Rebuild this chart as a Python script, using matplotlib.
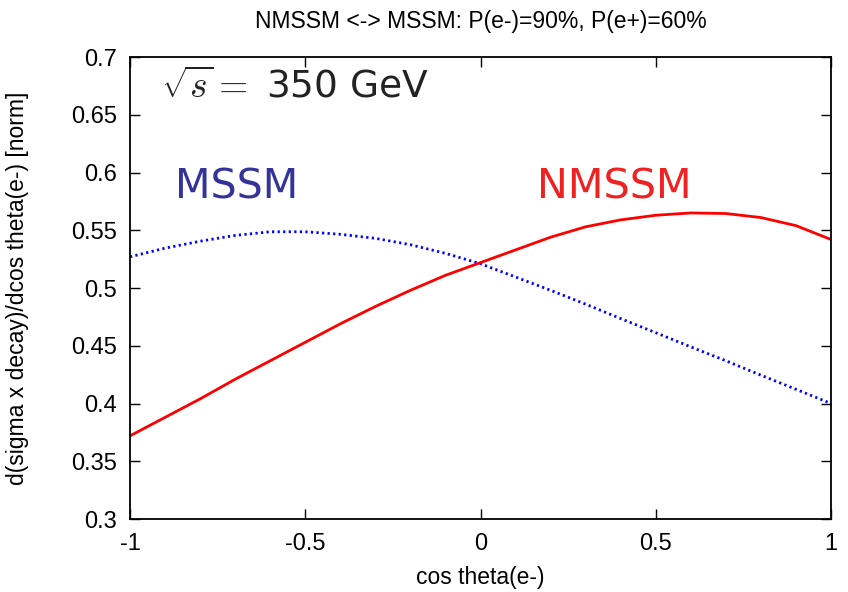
import numpy as np
import matplotlib
matplotlib.use("Agg")
import matplotlib.pyplot as plt

plt.rcParams['font.family'] = ['Liberation Sans', 'DejaVu Sans']
plt.rcParams['mathtext.fontset'] = 'cm'

cos_theta = [-1.0, -0.9, -0.8, -0.7, -0.6, -0.5, -0.4, -0.3, -0.2, -0.1, 0.0,
             0.1, 0.2, 0.3, 0.4, 0.5, 0.6, 0.7, 0.8, 0.9, 1.0]
nmssm = [0.372, 0.388, 0.404, 0.421, 0.437, 0.453, 0.469, 0.484, 0.498, 0.511, 0.522,
         0.533, 0.544, 0.553, 0.559, 0.563, 0.565, 0.5645, 0.561, 0.554, 0.542]
mssm = [0.527, 0.5345, 0.5405, 0.5455, 0.5487, 0.5487, 0.5465, 0.543, 0.5375, 0.530, 0.521,
        0.5095, 0.498, 0.486, 0.4735, 0.4613, 0.449, 0.437, 0.4245, 0.4123, 0.400]
xticks = [-1, -0.5, 0, 0.5, 1]
xticklabels = ['-1', '-0.5', '0', '0.5', '1']
yticks = [0.3, 0.35, 0.4, 0.45, 0.5, 0.55, 0.6, 0.65, 0.7]
yticklabels = ['0.3', '0.35', '0.4', '0.45', '0.5', '0.55', '0.6', '0.65', '0.7']

fig = plt.figure(figsize=(8.48, 5.92), dpi=100)
ax = fig.add_axes([0.1533, 0.1233, 0.8267, 0.7804])

ax.plot(cos_theta, mssm, color='#0000ff', lw=2.0, linestyle=(0, (0.8, 1.2)))
ax.plot(cos_theta, nmssm, color='#ff0000', lw=2.0)

ax.set_xlim(-1, 1)
ax.set_ylim(0.3, 0.7)
ax.set_xticks(xticks)
ax.set_xticklabels(xticklabels)
ax.set_yticks(yticks)
ax.set_yticklabels(yticklabels)
ax.tick_params(direction='in', length=7, width=1, top=True, right=True, labelsize=17)
ax.tick_params(axis='y', pad=9.5)
ax.tick_params(axis='x', pad=10)
for s in ax.spines.values():
    s.set_linewidth(1.3)

ax.set_title('NMSSM <-> MSSM: P(e-)=90%, P(e+)=60%', fontsize=16.5,
             y=1 + (57 - 21) / 462, va='center', pad=0)
ax.set_xlabel('cos theta(e-)', fontsize=16.5, va='center')
ax.xaxis.set_label_coords(0.5, (519 - 577) / 462)
ax.set_ylabel('d(sigma x decay)/dcos theta(e-) [norm]', fontsize=16.5, va='center')
ax.yaxis.set_label_coords((18 - 130) / 701, 0.5)

ax.text(-0.912, 0.674, r'$\sqrt{s} =$ 350 GeV', fontsize=27, color='#222222',
        family='DejaVu Sans', va='center', ha='left')
ax.text(-0.695, 0.587, 'MSSM', fontsize=29.7, color='#333399', family='DejaVu Sans',
        va='center', ha='center')
ax.text(0.382, 0.587, 'NMSSM', fontsize=29.8, color='#ee2222', family='DejaVu Sans',
        va='center', ha='center')

fig.savefig('out.png', dpi=100)
